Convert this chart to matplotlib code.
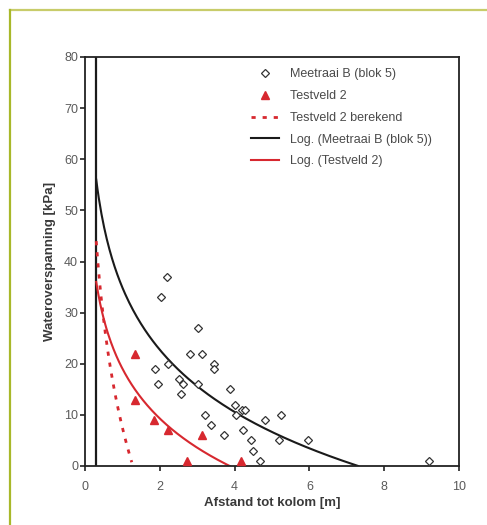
import numpy as np
import matplotlib.pyplot as plt
from matplotlib.lines import Line2D

plt.rcParams['font.family'] = ['Liberation Sans', 'DejaVu Sans']

# Meetraai B (blok 5) measurements
meetraai_x = [2.18, 2.02, 3.03, 2.80, 3.14, 1.87, 2.22, 3.44, 3.46, 1.94,
              2.51, 2.61, 3.03, 2.58, 3.87, 4.00, 4.05, 4.20, 4.29, 3.20,
              3.36, 4.81, 5.24, 4.22, 3.71, 4.45, 5.18, 4.49, 4.68, 5.96, 9.21]
meetraai_y = [37, 33, 27, 22, 22, 19, 20, 20, 19, 16,
              17, 16, 16, 14, 15, 12, 10, 11, 11, 10,
              8, 9, 10, 7, 6, 5, 5, 3, 1, 5, 1]

# Testveld 2 measurements
testveld_x = [1.34, 1.34, 1.84, 2.22, 3.13, 2.72, 4.17]
testveld_y = [22, 13, 9, 7, 6, 1, 1]

# logarithmic trend lines y = a - b*ln(x)
log_meetraai = (34.9, 17.55, 0.3, 7.3)
log_testveld = (19.05, 14.08, 0.3, 3.87)
berekend = (7.5, 30.3, 0.3, 1.25)

kolom_x = 0.3

red = '#d7282f'
grey = '#4a4a4a'


def log_curve(a, b, x0, x1):
    x = np.linspace(x0, x1, 200)
    return x, a - b * np.log(x)


fig = plt.figure(figsize=(4.87, 5.25), dpi=100)
ax = fig.add_axes([85 / 487, 1 - 466 / 525, 374 / 487, 409 / 525])

ax.axvline(kolom_x, color='#1a1a1a', lw=1.6, zorder=1)

ax.plot(meetraai_x, meetraai_y, 'D', ms=3.6, mfc='white', mec='#333333',
        mew=0.9, label='Meetraai B (blok 5)', zorder=4, clip_on=False)
ax.plot(testveld_x, testveld_y, '^', ms=6, color=red, label='Testveld 2',
        zorder=4, clip_on=False)
bx, by = log_curve(*berekend)
ax.plot(bx, by, color=red, lw=2, ls=(0, (1.5, 2.5)), label='Testveld 2 berekend')
mx, my = log_curve(*log_meetraai)
ax.plot(mx, my, color='#1a1a1a', lw=1.5, label='Log. (Meetraai B (blok 5))')
tx, ty = log_curve(*log_testveld)
ax.plot(tx, ty, color=red, lw=1.5, label='Log. (Testveld 2)')

ax.set_xlim(0, 10)
ax.set_ylim(0, 80)
ax.set_xticks(range(0, 11, 2))
ax.set_yticks(range(0, 81, 10))
ax.tick_params(direction='out', length=3.5, width=1.2, labelsize=9,
               labelcolor='#5a5a5a', color='#222222')
ax.tick_params(axis='x', pad=7.5)
ax.tick_params(axis='y', pad=1.5)
for s in ax.spines.values():
    s.set_linewidth(1.3)
    s.set_color('#222222')

ax.set_xlabel('Afstand tot kolom [m]', fontsize=9.5, fontweight='bold',
              color='#3a3a3a', labelpad=3)
ax.set_ylabel('Wateroverspanning [kPa]', fontsize=9.5, fontweight='bold',
              color='#3a3a3a', labelpad=6)

leg = ax.legend(loc='upper left', bbox_to_anchor=(0.445, 0.972), frameon=False,
                fontsize=9, handlelength=2.2, handletextpad=0.9,
                labelspacing=0.78, borderpad=0, borderaxespad=0)
for t in leg.get_texts():
    t.set_color(grey)

# card border, top and left only
fig.add_artist(Line2D([10 / 487, 1], [1 - 10 / 525, 1 - 10 / 525],
                      color='#c8cc6a', lw=1.6))
fig.add_artist(Line2D([10 / 487, 10 / 487], [1 - 10 / 525, 0],
                      color='#a8b82a', lw=1.6))

fig.savefig('out.png', dpi=100)
